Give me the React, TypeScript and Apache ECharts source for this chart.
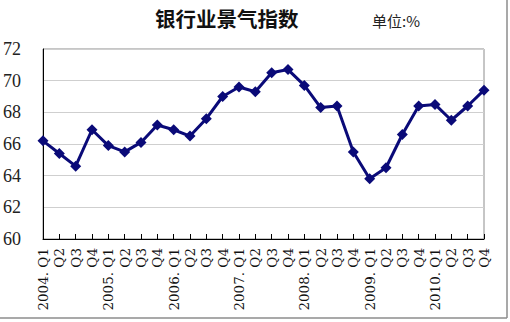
import React, { useEffect, useRef } from "react";
import * as echarts from "echarts";

const years = ["2004", "2005", "2006", "2007", "2008", "2009", "2010"];
const quarters = ["Q1", "Q2", "Q3", "Q4"];
const categories: string[] = [];
years.forEach((y) => quarters.forEach((q) => categories.push(`${y}. ${q}`)));

const values = [
  66.2, 65.4, 64.6, 66.9,
  65.9, 65.5, 66.1, 67.2,
  66.9, 66.5, 67.6, 69.0,
  69.6, 69.3, 70.5, 70.7,
  69.7, 68.3, 68.4, 65.5,
  63.8, 64.5, 66.6, 68.4,
  68.5, 67.5, 68.4, 69.4,
];

const titleText = "银行业景气指数";
const unitText = "单位:%";

export default function App() {
  const ref = useRef<HTMLDivElement>(null);
  useEffect(() => {
    if (!ref.current) return;
    const chart = echarts.init(ref.current, null, { renderer: "svg" });
    chart.setOption({
      animation: false,
      backgroundColor: "#fff",
      grid: {
        left: 42,
        right: 26,
        top: 49,
        bottom: 83,
        show: true,
        borderColor: "#8c8c8c",
        borderWidth: 1,
      },
      graphic: [
        {
          type: "text",
          left: 155,
          top: 8,
          style: {
            text: titleText,
            font: "bold 20.5px 'Noto Sans CJK SC'",
            fill: "#111",
          },
        },
        {
          type: "text",
          left: 372,
          top: 13,
          style: {
            text: unitText,
            font: "15px 'Noto Sans CJK SC'",
            fill: "#222",
          },
        },
        {
          type: "line",
          shape: { x1: 507, y1: 0, x2: 507, y2: 318 },
          style: { stroke: "#8c8c8c", lineWidth: 1.5 },
        },
        {
          type: "line",
          shape: { x1: 0, y1: 318, x2: 507, y2: 318 },
          style: { stroke: "#8c8c8c", lineWidth: 1.5 },
        },
      ],
      xAxis: {
        type: "category",
        data: categories,
        boundaryGap: false,
        axisLine: { show: true, lineStyle: { color: "#000", width: 1 } },
        axisTick: {
          show: true,
          inside: true,
          length: 5,
          interval: 0,
          lineStyle: { color: "#000" },
        },
        axisLabel: {
          interval: 0,
          rotate: 90,
          margin: 9,
          fontFamily: "DejaVu Serif",
          fontSize: 13.5,
          color: "#111",
          formatter: (v: string) => (v.endsWith("Q1") ? v : v.split(" ")[1]),
        },
        splitLine: { show: false },
      },
      yAxis: {
        type: "value",
        min: 60,
        max: 72,
        interval: 2,
        axisLine: { show: true, lineStyle: { color: "#000", width: 1 } },
        axisTick: { show: false },
        axisLabel: {
          margin: 22,
          fontFamily: "Liberation Serif",
          fontSize: 18,
          color: "#222",
        },
        splitLine: { show: true, lineStyle: { color: "#cfcfcf", width: 1 } },
      },
      series: [
        {
          type: "line",
          data: values,
          symbol: "diamond",
          symbolSize: 11,
          lineStyle: { color: "#0a0a78", width: 3 },
          itemStyle: { color: "#0a0a78" },
        },
      ],
    });
    return () => chart.dispose();
  }, []);
  return (
    <div
      ref={ref}
      style={{ position: "fixed", left: 0, top: 0, width: 510, height: 322, background: "#fff" }}
    />
  );
}
